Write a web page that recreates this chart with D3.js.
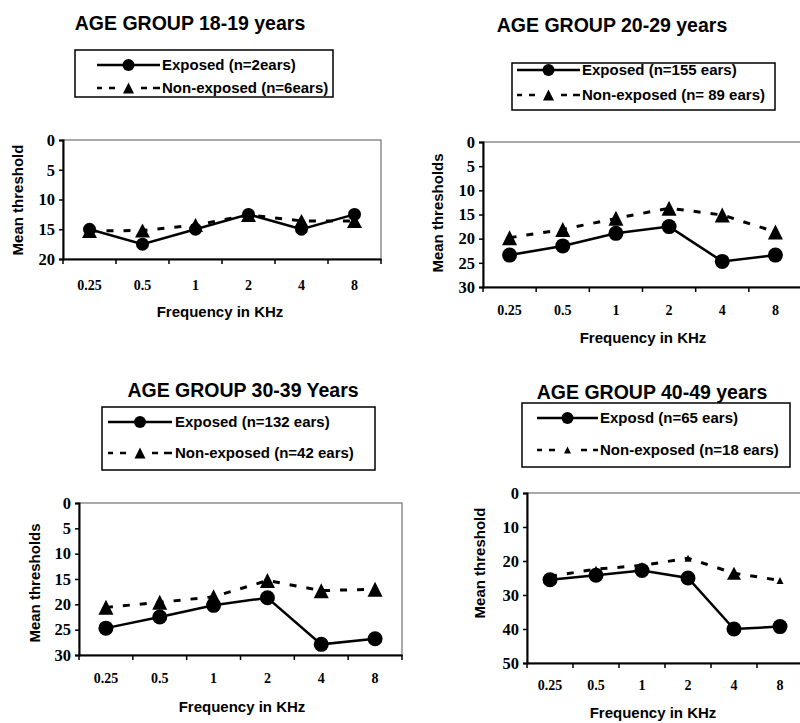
<!DOCTYPE html>
<html>
<head>
<meta charset="utf-8">
<script src="https://cdn.jsdelivr.net/npm/d3@7"></script>
<style>
  html, body { margin: 0; padding: 0; background: #fff; }
  svg { display: block; }
</style>
</head>
<body>
<svg id="chart" width="800" height="723"></svg>
<script>
// ---------- DATA ----------
const frequencies = ["0.25", "0.5", "1", "2", "4", "8"];

const titles = ["AGE GROUP 18-19 years", "AGE GROUP 20-29 years", "AGE GROUP 30-39 Years", "AGE GROUP 40-49 years"];
const exposedLabels = ["Exposed (n=2ears)", "Exposed (n=155 ears)", "Exposed (n=132 ears)", "Exposd (n=65 ears)"];
const nonExposedLabels = ["Non-exposed (n=6ears)", "Non-exposed (n= 89 ears)", "Non-exposed (n=42 ears)", "Non-exposed (n=18 ears)"];
const yTitles = ["Mean threshold", "Mean thresholds", "Mean thresholds", "Mean threshold"];
const xTitle = "Frequency in KHz";

const yMax = [20, 30, 30, 50];
const yStep = [5, 5, 5, 10];

const exposed18 = [15, 17.5, 15, 12.5, 15, 12.5];
const nonExposed18 = [15.3, 15.2, 14.3, 12.6, 13.6, 13.6];
const exposed20 = [23.4, 21.5, 18.9, 17.5, 24.7, 23.4];
const nonExposed20 = [19.8, 18.1, 15.8, 13.7, 15.1, 18.6];
const exposed30 = [24.7, 22.5, 20.2, 18.7, 27.9, 26.8];
const nonExposed30 = [20.6, 19.6, 18.5, 15.3, 17.3, 17.0];
const exposed40 = [25.5, 24.2, 22.8, 25.0, 40.0, 39.3];
const nonExposed40 = [24.5, 22.4, 21.3, 19.2, 23.6, 25.7];

const exposedSeries = [exposed18, exposed20, exposed30, exposed40];
const nonExposedSeries = [nonExposed18, nonExposed20, nonExposed30, nonExposed40];

// ---------- LAYOUT ----------
const layouts = [
  { x0: 63, x1: 381, y0: 140, y1: 259, titleX: 190, titleY: 30, leg: [75, 50, 258, 47], legRows: [65, 88], legLine: [97, 160], legText: 162,
    yTitleX: 18, yTitleY: 200, xTitleX: 220, xTitleY: 317, tickY: 290, r: 6.5, tri: [15, 14], triBig: null },
  { x0: 483, x1: 802, y0: 142, y1: 287, titleX: 612, titleY: 32, leg: [512, 63, 263, 47], legRows: [70, 95], legLine: [517, 580], legText: 582,
    yTitleX: 438, yTitleY: 213, xTitleX: 643, xTitleY: 343, tickY: 315, r: 7.5, tri: [15, 15], triBig: null },
  { x0: 79, x1: 402, y0: 503, y1: 655, titleX: 243, titleY: 397, leg: [102, 407, 273, 63], legRows: [422, 453], legLine: [108, 172], legText: 175,
    yTitleX: 35, yTitleY: 583, xTitleX: 242, xTitleY: 712, tickY: 683, r: 7.5, tri: [15, 15], triBig: null },
  { x0: 527, x1: 803, y0: 493, y1: 663, titleX: 652, titleY: 399, leg: [522, 403, 268, 64], legRows: [418, 450], legLine: [537, 598], legText: 600,
    yTitleX: 480, yTitleY: 563, xTitleX: 653, xTitleY: 718, tickY: 690, r: 7.5, tri: [7, 7], triBig: { index: 4, size: [14, 13] } }
];

const svg = d3.select("#chart");
const SANS = "Arial, 'Liberation Sans', sans-serif";
const SERIF = "'Times New Roman', 'Liberation Serif', serif";

function triPath(w, h) {
  return `M0,${-h / 2}L${w / 2},${h / 2}L${-w / 2},${h / 2}Z`;
}

layouts.forEach((L, i) => {
  const g = svg.append("g");

  // Title
  g.append("text").attr("x", L.titleX).attr("y", L.titleY).attr("text-anchor", "middle")
    .attr("font-family", SANS).attr("font-weight", "bold").attr("font-size", 19.5).text(titles[i]);

  // Legend
  const [lx, ly, lw, lh] = L.leg;
  g.append("rect").attr("x", lx).attr("y", ly).attr("width", lw).attr("height", lh)
    .attr("fill", "none").attr("stroke", "#000").attr("stroke-width", 1.5);
  const lmid = (L.legLine[0] + L.legLine[1]) / 2;
  g.append("line").attr("x1", L.legLine[0]).attr("x2", L.legLine[1]).attr("y1", L.legRows[0]).attr("y2", L.legRows[0])
    .attr("stroke", "#000").attr("stroke-width", 2.5);
  g.append("circle").attr("cx", lmid).attr("cy", L.legRows[0]).attr("r", 6).attr("fill", "#000");
  g.append("text").attr("x", L.legText).attr("y", L.legRows[0] + 5).attr("font-family", SANS).attr("font-weight", "bold")
    .attr("font-size", 15).text(exposedLabels[i]);
  g.append("line").attr("x1", L.legLine[0]).attr("x2", L.legLine[1]).attr("y1", L.legRows[1]).attr("y2", L.legRows[1])
    .attr("stroke", "#000").attr("stroke-width", 2.5).attr("stroke-dasharray", "5,7,6,26,6,6,8");
  const lt = L.triBig ? [7, 7] : [11, 11];
  g.append("path").attr("d", triPath(lt[0], lt[1])).attr("transform", `translate(${lmid},${L.legRows[1]})`).attr("fill", "#000");
  g.append("text").attr("x", L.legText).attr("y", L.legRows[1] + 5).attr("font-family", SANS).attr("font-weight", "bold")
    .attr("font-size", 15).text(nonExposedLabels[i]);

  // Scales
  const x = d3.scaleBand().domain(frequencies).range([L.x0, L.x1]).paddingInner(0).paddingOuter(0);
  const y = d3.scaleLinear().domain([0, yMax[i]]).range([L.y0, L.y1]);
  const cx = d => x(d) + x.bandwidth() / 2;

  // Frame (thin top/right)
  g.append("rect").attr("x", L.x0).attr("y", L.y0).attr("width", L.x1 - L.x0).attr("height", L.y1 - L.y0)
    .attr("fill", "none").attr("stroke", "#555").attr("stroke-width", 1);

  // Y axis
  const ticks = d3.range(0, yMax[i] + 0.001, yStep[i]);
  const yAxis = d3.axisLeft(y).tickValues(ticks).tickSize(4).tickPadding(4).tickFormat(d3.format("d"));
  const ya = g.append("g").attr("transform", `translate(${L.x0},0)`).call(yAxis);
  ya.select(".domain").attr("stroke", "#000").attr("stroke-width", 2);
  ya.selectAll(".tick line").attr("stroke", "#000").attr("stroke-width", 1.5);
  ya.selectAll(".tick text").attr("font-family", SERIF).attr("font-weight", "bold").attr("font-size", 16.5).attr("fill", "#000");

  // X axis
  const xAxis = d3.axisBottom(x).tickSize(0).tickPadding(0);
  const xa = g.append("g").attr("transform", `translate(0,${L.y1})`).call(xAxis);
  xa.select(".domain").attr("stroke", "#000").attr("stroke-width", 2);
  xa.selectAll(".tick text").attr("font-family", SERIF).attr("font-weight", "bold").attr("font-size", 14).attr("fill", "#000")
    .attr("dy", null).attr("y", L.tickY - L.y1);
  // tick marks at band boundaries
  const bounds = frequencies.map(f => x(f)).concat([x.range()[1]]);
  g.selectAll(null).data(bounds).enter().append("line")
    .attr("x1", d => d).attr("x2", d => d).attr("y1", L.y1).attr("y2", L.y1 + 5)
    .attr("stroke", "#000").attr("stroke-width", 1.5);

  // Axis titles
  g.append("text").attr("x", L.xTitleX).attr("y", L.xTitleY).attr("text-anchor", "middle")
    .attr("font-family", SANS).attr("font-weight", "bold").attr("font-size", 15).text(xTitle);
  g.append("text").attr("transform", `translate(${L.yTitleX + 5},${L.yTitleY}) rotate(-90)`).attr("text-anchor", "middle")
    .attr("font-family", SANS).attr("font-weight", "bold").attr("font-size", 15).text(yTitles[i]);

  // Lines
  const line = d3.line().x((d, j) => cx(frequencies[j])).y(d => y(d));
  g.append("path").datum(nonExposedSeries[i]).attr("d", line).attr("fill", "none")
    .attr("stroke", "#000").attr("stroke-width", 3).attr("stroke-dasharray", "7,10");
  g.append("path").datum(exposedSeries[i]).attr("d", line).attr("fill", "none")
    .attr("stroke", "#000").attr("stroke-width", 2.5);

  // Markers
  g.selectAll(null).data(nonExposedSeries[i]).enter().append("path")
    .attr("d", (d, j) => {
      const s = (L.triBig && L.triBig.index === j) ? L.triBig.size : L.tri;
      return triPath(s[0], s[1]);
    })
    .attr("transform", (d, j) => `translate(${cx(frequencies[j])},${y(d)})`).attr("fill", "#000");
  g.selectAll(null).data(exposedSeries[i]).enter().append("circle")
    .attr("cx", (d, j) => cx(frequencies[j])).attr("cy", d => y(d)).attr("r", L.r).attr("fill", "#000");
});
</script>
</body>
</html>
